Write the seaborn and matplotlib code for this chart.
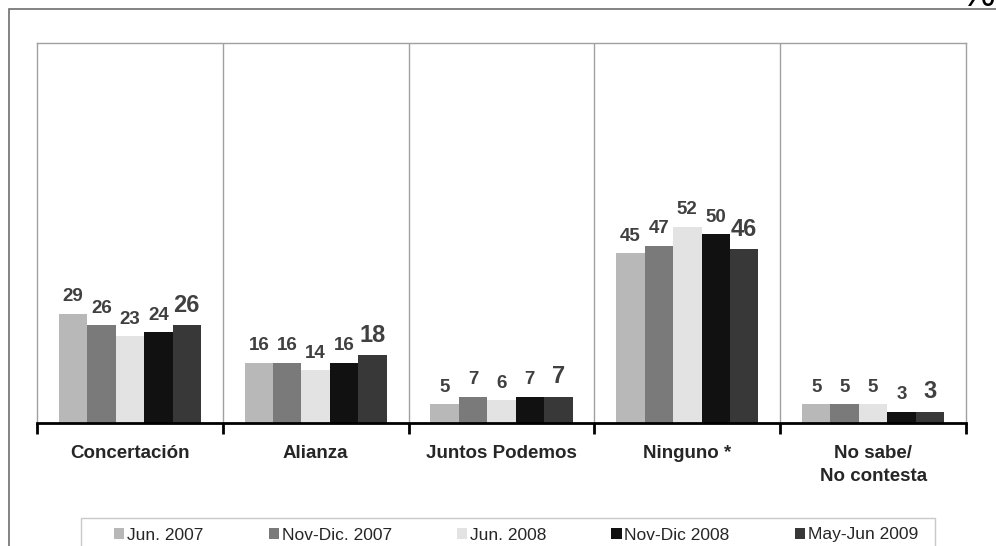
import matplotlib
matplotlib.use("Agg")

import matplotlib.pyplot as plt
import pandas as pd
import seaborn as sns
from matplotlib.patches import Rectangle

# ==========================================
# Data
# ==========================================

categories = [
    "Concertación",
    "Alianza",
    "Juntos Podemos",
    "Ninguno *",
    "No sabe/\nNo contesta",
]

periods = [
    "Jun. 2007",
    "Nov-Dic. 2007",
    "Jun. 2008",
    "Nov-Dic 2008",
    "May-Jun 2009",
]

jun_2007 = [29, 16, 5, 45, 5]
nov_dic_2007 = [26, 16, 7, 47, 5]
jun_2008 = [23, 14, 6, 52, 5]
nov_dic_2008 = [24, 16, 7, 50, 3]
may_jun_2009 = [26, 18, 7, 46, 3]

colors = ["#b8b8b8", "#7a7a7a", "#e3e3e3", "#111111", "#383838"]


def main():

    series = [jun_2007, nov_dic_2007, jun_2008, nov_dic_2008, may_jun_2009]

    rows = []
    for period, values in zip(periods, series):
        for cat, v in zip(categories, values):
            rows.append({"categoria": cat, "periodo": period, "valor": v})
    df = pd.DataFrame(rows)

    # ==========================================
    # Style
    # ==========================================

    sns.set_theme(style="white")
    plt.rcParams["font.family"] = ["Liberation Sans", "DejaVu Sans"]

    fig = plt.figure(figsize=(9.96, 5.46), dpi=100)

    # outer frame (top + left edge of the slide box)
    fig.add_artist(Rectangle(
        (9 / 996, -0.1), 1.2, 1.1 - 9 / 546,
        transform=fig.transFigure, fill=False,
        edgecolor="#6e6e6e", linewidth=1.2,
    ))

    # "%" sign, mostly above the top edge as in the original slide
    fig.text(978 / 996, 1 - 6 / 546, "%", fontsize=28,
             ha="center", va="baseline", color="black")

    ax = fig.add_axes([37 / 996, 1 - 423 / 546, 929 / 996, 380 / 546])

    sns.barplot(
        data=df,
        x="categoria",
        y="valor",
        hue="periodo",
        order=categories,
        hue_order=periods,
        palette=colors,
        width=0.765,
        saturation=1,
        linewidth=0,
        errorbar=None,
        legend=True,
        ax=ax,
    )

    ax.set_ylim(0, 100.7)
    ax.set_xlim(-0.5, len(categories) - 0.5)

    # value labels, last series larger
    for i, container in enumerate(ax.containers):
        last = i == len(ax.containers) - 1
        ax.bar_label(
            container,
            fmt="%d",
            padding=6,
            fontsize=17 if last else 13.5,
            fontweight="bold",
            color="#404040",
        )

    # separators between categories
    for b in range(1, len(categories)):
        ax.axvline(b - 0.5, color="#a0a0a0", linewidth=1, zorder=0)

    # spines
    for side in ["top", "left", "right"]:
        ax.spines[side].set_color("#a0a0a0")
        ax.spines[side].set_linewidth(1)
    ax.spines["bottom"].set_color("black")
    ax.spines["bottom"].set_linewidth(2)

    # ticks
    ax.set_yticks([])
    ax.set_xticks(range(len(categories)))
    ax.set_xticklabels(categories, fontsize=13.5, fontweight="bold",
                       linespacing=1.45)
    ax.tick_params(axis="x", which="major", length=0, pad=16)
    ax.set_xticks([b - 0.5 for b in range(len(categories) + 1)], minor=True)
    ax.tick_params(axis="x", which="minor", bottom=True, length=8,
                   width=2, color="black", direction="out")
    ax.set_xlabel("")
    ax.set_ylabel("")

    # ==========================================
    # Legend
    # ==========================================

    handles, labels = ax.get_legend_handles_labels()
    ax.get_legend().remove()

    fig.add_artist(Rectangle(
        (81 / 996, -0.05), 854 / 996, 0.05 + 1 - 518 / 546,
        transform=fig.transFigure, fill=False,
        edgecolor="#c8c8c8", linewidth=1,
    ))

    fig.legend(
        handles,
        labels,
        ncol=5,
        loc="center left",
        bbox_to_anchor=(114 / 996, 1 - 535 / 546),
        frameon=False,
        fontsize=12.5,
        handlelength=0.6,
        handleheight=0.6,
        handletextpad=0.15,
        columnspacing=3.75,
        borderpad=0,
        borderaxespad=0,
    )

    fig.savefig("out.png", dpi=100)
    plt.close(fig)


if __name__ == "__main__":
    main()
